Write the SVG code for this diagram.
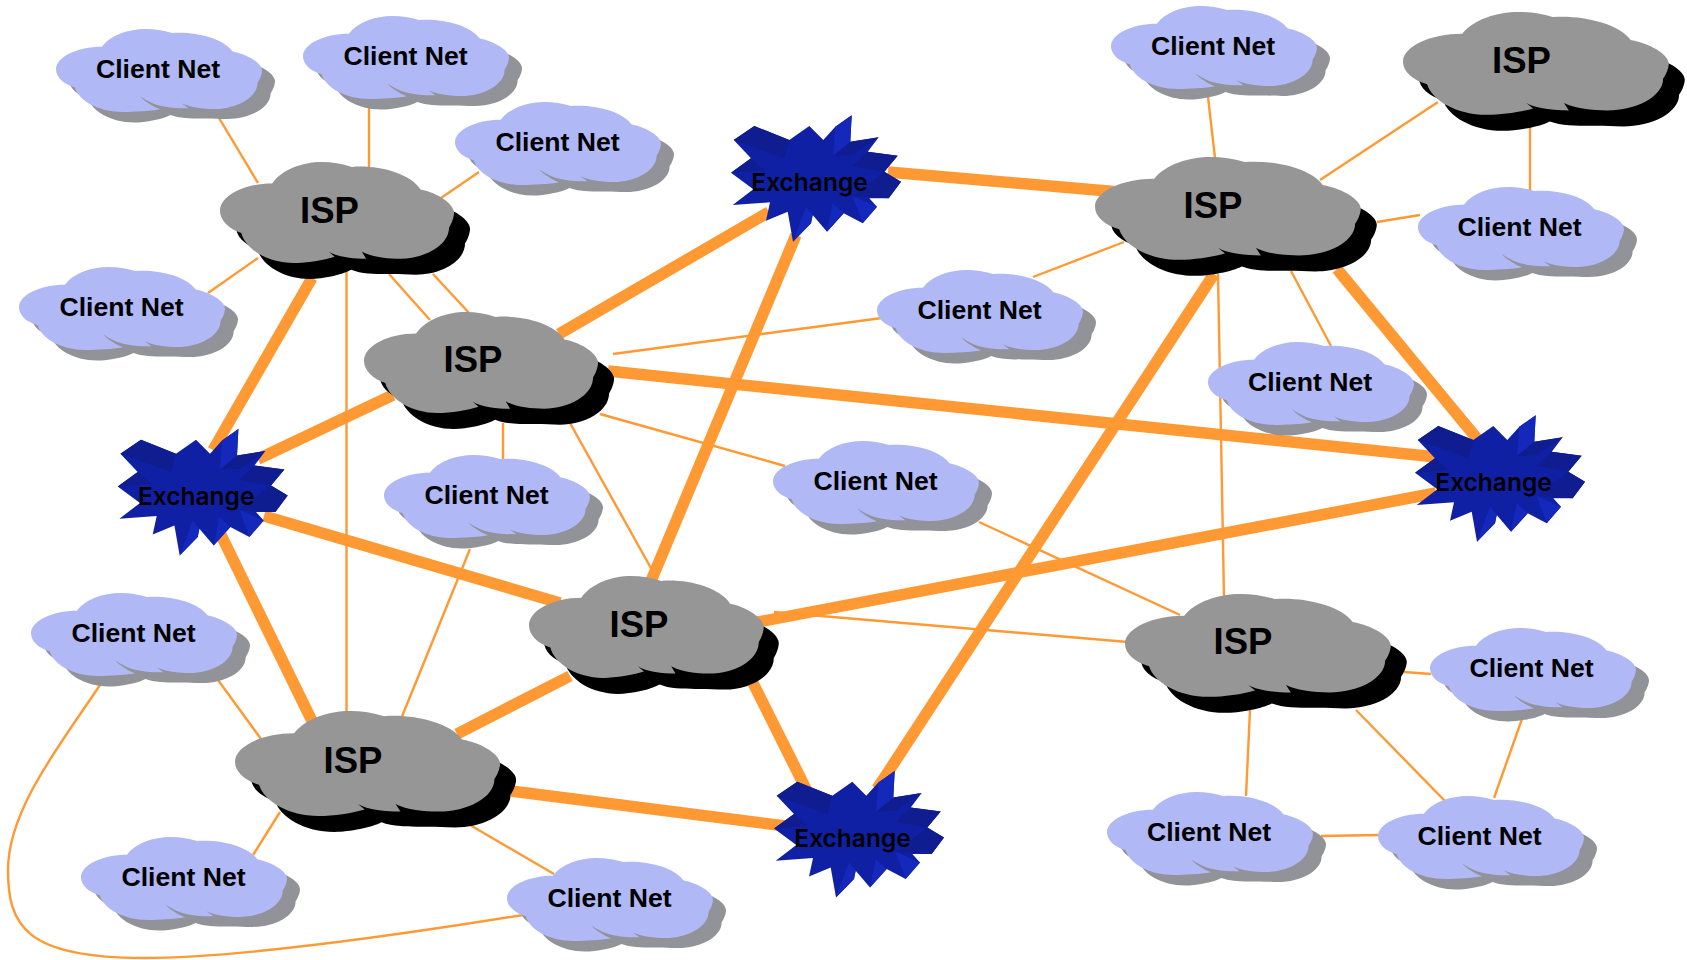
<svg xmlns="http://www.w3.org/2000/svg" width="1687" height="960" viewBox="0 0 1687 960">
<style>
.thick{stroke:#ff9933;stroke-width:11.500;fill:none}
.thin{stroke:#ff9933;stroke-width:2.400;fill:none}
.cf{fill:#b0b8f5}.cs{fill:#929299}.if{fill:#969696}.is{fill:#000}
.t{font-family:"Liberation Sans",Arial,sans-serif;font-weight:700;fill:#000;text-anchor:middle}
.ct{font-size:26.600px}.it{font-size:36.500px}
.et{font-family:Inter,"Liberation Sans",sans-serif;font-weight:600;font-size:24.500px;fill:#000;text-anchor:middle}
.sb{fill:#1020a4}.sd{fill:#0f1d90}.sl{fill:#1428bc}
</style>
<defs>
<path id="cloud" d="M0,148C0,103 72,65 157,65C187,23 247,0 307,0C337,0 367,5 397,15C472,8 572,33 604,83C657,93 705,128 705,153C705,168 697,188 690,198C690,253 617,295 542,295C505,295 460,290 430,274L453,292C430,292 415,292 390,289C350,285 315,270 287,247C300,265 330,285 356,296C320,303 270,306 229,306C142,306 77,263 64,215C27,203 0,178 0,148Z"/>
<path id="cloudI" d="M0,148C0,103 72,65 157,65C187,23 247,0 307,0C337,0 367,5 397,15C472,8 572,33 604,83C657,93 705,128 705,153C705,168 697,188 690,198C690,253 617,293 542,293C502,293 457,288 427,271L440,293C402,293 352,288 327,271L345,287C312,298 262,306 222,306C142,306 77,263 64,215C27,203 0,178 0,148Z"/>
<path id="shadow" d="M0,148C0,103 72,65 157,65C187,23 247,0 307,0C337,0 367,5 397,15C472,8 572,33 604,83C657,93 705,128 705,153C705,168 697,188 690,198C690,253 617,293 542,293C515,293 495,291 470,291C430,291 380,292 347,278C322,293 262,306 222,306C142,306 77,263 64,215C27,203 0,178 0,148Z"/>
<g id="star">
<path class="sb" d="M37.700,50L58.300,36L93.300,50L113.300,36L127.300,50L139.300,36.700L155.700,25.300L154.300,51.700L182.700,47.300L171.700,61.700L201.700,65.700L188.300,81.700L205,91.700L192.700,108.300L173.300,108.300L181,116.700L166.700,133.300L147.700,123.300L131,141.700L116.700,125L115,133.300L97,151.700L91.700,121.700L70,130.700L74,112.300L36.700,115L57.300,99.300L35,82.700L55,68.300Z"/>
<path class="sd" d="M37.700,50L58.300,36L93.300,50L88.300,68.300ZM35,82.700L55,68.300L68,80ZM154.300,51.700L182.700,47.300L156.700,65L137.300,65.700ZM171.700,61.700L201.700,65.700L188.300,81.700L156.700,76ZM188.300,81.700L205,91.700L192.700,108.300L156.700,106Z"/>
<path class="sl" d="M139.300,36.700L155.700,25.300L154.300,51.700L137.300,65.700ZM97,151.700L110,116.700L116.700,125L115,133.300ZM131,141.700L136.700,113.300L147.700,123.300ZM156.700,106L181,116.700L166.700,133.300Z"/>
</g>
</defs>
<g id="connectors">
<line class="thick" x1="888" y1="172" x2="1119" y2="192"/>
<line class="thick" x1="559" y1="334" x2="769" y2="212"/>
<line class="thick" x1="796" y1="235" x2="651" y2="581"/>
<line class="thick" x1="312" y1="278" x2="213" y2="450"/>
<line class="thick" x1="393" y1="395" x2="258" y2="459"/>
<line class="thick" x1="264" y1="516" x2="560" y2="603"/>
<line class="thick" x1="221" y1="535" x2="312" y2="721"/>
<line class="thick" x1="570" y1="676" x2="457" y2="734"/>
<line class="thick" x1="511" y1="791" x2="785" y2="826"/>
<line class="thick" x1="753" y1="683" x2="807" y2="791"/>
<line class="thick" x1="1214" y1="274" x2="877" y2="789"/>
<line class="thick" x1="1337" y1="269" x2="1479" y2="441"/>
<line class="thick" x1="608" y1="371" x2="1436" y2="457"/>
<line class="thick" x1="758" y1="622" x2="1436" y2="493"/>
<line class="thin" x1="219" y1="118" x2="258" y2="183"/>
<line class="thin" x1="369" y1="108" x2="369" y2="167"/>
<line class="thin" x1="479" y1="172" x2="441" y2="198"/>
<line class="thin" x1="208" y1="293" x2="258" y2="258"/>
<line class="thin" x1="346.500" y1="269" x2="346.500" y2="712"/>
<line class="thin" x1="389" y1="274" x2="430" y2="320"/>
<line class="thin" x1="433" y1="274" x2="470" y2="314"/>
<line class="thin" x1="613" y1="354" x2="882" y2="318"/>
<line class="thin" x1="1033" y1="277" x2="1124" y2="242"/>
<line class="thin" x1="1208" y1="97" x2="1215" y2="158"/>
<line class="thin" x1="1320" y1="180" x2="1438" y2="102"/>
<line class="thin" x1="1530" y1="127" x2="1530" y2="191"/>
<line class="thin" x1="1377" y1="222" x2="1420" y2="215"/>
<line class="thin" x1="1291" y1="271" x2="1331" y2="346"/>
<line class="thin" x1="1218" y1="274" x2="1224" y2="597"/>
<line class="thin" x1="503" y1="423" x2="503" y2="459"/>
<line class="thin" x1="600" y1="414" x2="785" y2="466"/>
<line class="thin" x1="570" y1="423" x2="652" y2="570"/>
<line class="thin" x1="979" y1="522" x2="1180" y2="615"/>
<line class="thin" x1="774" y1="612" x2="1128" y2="642"/>
<line class="thin" x1="470" y1="549" x2="401" y2="719"/>
<line class="thin" x1="218" y1="680" x2="261" y2="739"/>
<line class="thin" x1="253" y1="855" x2="280" y2="812"/>
<line class="thin" x1="470" y1="825" x2="554" y2="874"/>
<path class="thin" d="M100,685C60,745 8,810 8,870C8,925 25,958 143,958C250,958 430,930 523,915"/>
<line class="thin" x1="1404" y1="672" x2="1431" y2="674"/>
<line class="thin" x1="1250" y1="710" x2="1246" y2="796"/>
<line class="thin" x1="1356" y1="710" x2="1445" y2="801"/>
<line class="thin" x1="1321" y1="836" x2="1379" y2="835"/>
<line class="thin" x1="1522" y1="719" x2="1494" y2="798"/>
</g>
<g id="client1"><use href="#shadow" class="cs" transform="translate(69,39.500) scale(.2922,.2712)"/><use href="#cloud" class="cf" transform="translate(56,29) scale(.2922,.2712)"/><text class="t ct" x="158" y="77.500">Client Net</text></g>
<g id="client2"><use href="#shadow" class="cs" transform="translate(316,26.500) scale(.2922,.2712)"/><use href="#cloud" class="cf" transform="translate(303,16) scale(.2922,.2712)"/><text class="t ct" x="405.500" y="64.500">Client Net</text></g>
<g id="client3"><use href="#shadow" class="cs" transform="translate(468,112.500) scale(.2922,.2712)"/><use href="#cloud" class="cf" transform="translate(455,102) scale(.2922,.2712)"/><text class="t ct" x="557.500" y="150.500">Client Net</text></g>
<g id="client4"><use href="#shadow" class="cs" transform="translate(32,277.500) scale(.2922,.2712)"/><use href="#cloud" class="cf" transform="translate(19,267) scale(.2922,.2712)"/><text class="t ct" x="121.500" y="315.500">Client Net</text></g>
<g id="client5"><use href="#shadow" class="cs" transform="translate(1124,16.500) scale(.2922,.2712)"/><use href="#cloud" class="cf" transform="translate(1111,6) scale(.2922,.2712)"/><text class="t ct" x="1213" y="54.500">Client Net</text></g>
<g id="client6"><use href="#shadow" class="cs" transform="translate(1431,197.500) scale(.2922,.2712)"/><use href="#cloud" class="cf" transform="translate(1418,187) scale(.2922,.2712)"/><text class="t ct" x="1519.500" y="235.500">Client Net</text></g>
<g id="client7"><use href="#shadow" class="cs" transform="translate(890,280.500) scale(.2922,.2712)"/><use href="#cloud" class="cf" transform="translate(877,270) scale(.2922,.2712)"/><text class="t ct" x="979.500" y="318.500">Client Net</text></g>
<g id="client8"><use href="#shadow" class="cs" transform="translate(1221,352.500) scale(.2922,.2712)"/><use href="#cloud" class="cf" transform="translate(1208,342) scale(.2922,.2712)"/><text class="t ct" x="1310" y="390.500">Client Net</text></g>
<g id="client9"><use href="#shadow" class="cs" transform="translate(786,451.500) scale(.2922,.2712)"/><use href="#cloud" class="cf" transform="translate(773,441) scale(.2922,.2712)"/><text class="t ct" x="875.500" y="489.500">Client Net</text></g>
<g id="client10"><use href="#shadow" class="cs" transform="translate(397,465.500) scale(.2922,.2712)"/><use href="#cloud" class="cf" transform="translate(384,455) scale(.2922,.2712)"/><text class="t ct" x="486.500" y="503.500">Client Net</text></g>
<g id="client11"><use href="#shadow" class="cs" transform="translate(44,603.500) scale(.2922,.2712)"/><use href="#cloud" class="cf" transform="translate(31,593) scale(.2922,.2712)"/><text class="t ct" x="133.500" y="641.500">Client Net</text></g>
<g id="client12"><use href="#shadow" class="cs" transform="translate(94,847.500) scale(.2922,.2712)"/><use href="#cloud" class="cf" transform="translate(81,837) scale(.2922,.2712)"/><text class="t ct" x="183.500" y="885.500">Client Net</text></g>
<g id="client13"><use href="#shadow" class="cs" transform="translate(520,868.500) scale(.2922,.2712)"/><use href="#cloud" class="cf" transform="translate(507,858) scale(.2922,.2712)"/><text class="t ct" x="609.500" y="906.500">Client Net</text></g>
<g id="client14"><use href="#shadow" class="cs" transform="translate(1120,802.500) scale(.2922,.2712)"/><use href="#cloud" class="cf" transform="translate(1107,792) scale(.2922,.2712)"/><text class="t ct" x="1209" y="840.500">Client Net</text></g>
<g id="client15"><use href="#shadow" class="cs" transform="translate(1391,806.500) scale(.2922,.2712)"/><use href="#cloud" class="cf" transform="translate(1378,796) scale(.2922,.2712)"/><text class="t ct" x="1479.500" y="844.500">Client Net</text></g>
<g id="client16"><use href="#shadow" class="cs" transform="translate(1443,638.500) scale(.2922,.2712)"/><use href="#cloud" class="cf" transform="translate(1430,628) scale(.2922,.2712)"/><text class="t ct" x="1531.500" y="676.500">Client Net</text></g>
<g id="ispA"><use href="#shadow" class="is" transform="translate(236,178) scale(.332,.33)"/><use href="#cloudI" class="if" transform="translate(220,162) scale(.332,.33)"/><text class="t it" x="329.500" y="222.700">ISP</text></g>
<g id="ispB"><use href="#shadow" class="is" transform="translate(380,328) scale(.332,.33)"/><use href="#cloudI" class="if" transform="translate(364,312) scale(.332,.33)"/><text class="t it" x="473" y="372">ISP</text></g>
<g id="ispC"><use href="#shadow" class="is" transform="translate(1111,173) scale(.377,.336)"/><use href="#cloudI" class="if" transform="translate(1095,157) scale(.377,.336)"/><text class="t it" x="1213" y="217.500">ISP</text></g>
<g id="ispD"><use href="#shadow" class="is" transform="translate(1419,28) scale(.377,.336)"/><use href="#cloudI" class="if" transform="translate(1403,12) scale(.377,.336)"/><text class="t it" x="1521.500" y="72.700">ISP</text></g>
<g id="ispE"><use href="#shadow" class="is" transform="translate(544,592) scale(.333,.333)"/><use href="#cloudI" class="if" transform="translate(529,576) scale(.333,.333)"/><text class="t it" x="639" y="637">ISP</text></g>
<g id="ispF"><use href="#shadow" class="is" transform="translate(251,727) scale(.376,.343)"/><use href="#cloudI" class="if" transform="translate(235,711) scale(.376,.343)"/><text class="t it" x="353" y="772.700">ISP</text></g>
<g id="ispG"><use href="#shadow" class="is" transform="translate(1141,610) scale(.377,.336)"/><use href="#cloudI" class="if" transform="translate(1125,594) scale(.377,.336)"/><text class="t it" x="1243" y="654">ISP</text></g>
<g id="exchangeTop"><use href="#star" transform="translate(696,90)"/><text class="et" x="809.500" y="191">Exchange</text></g>
<g id="exchangeLeft"><use href="#star" transform="translate(82.700,403.700)"/><text class="et" x="196.200" y="504.700">Exchange</text></g>
<g id="exchangeBottom"><use href="#star" transform="translate(739,745.700)"/><text class="et" x="852.500" y="846.700">Exchange</text></g>
<g id="exchangeRight"><use href="#star" transform="translate(1380,390)"/><text class="et" x="1493.500" y="491">Exchange</text></g>
</svg>
